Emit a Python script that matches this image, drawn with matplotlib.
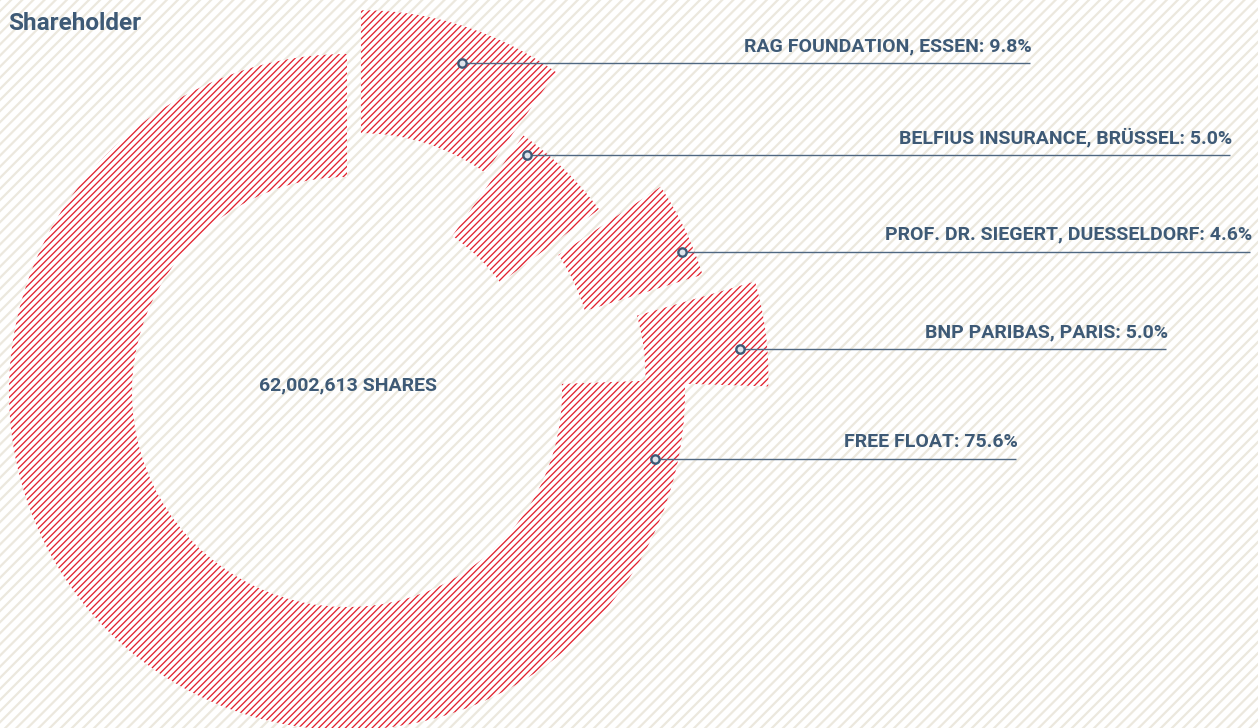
import matplotlib.pyplot as plt
from matplotlib.patches import Rectangle
from matplotlib.transforms import Affine2D
import numpy as np

# data
holders = ["RAG FOUNDATION, ESSEN", "BELFIUS INSURANCE, BRÜSSEL",
           "PROF. DR. SIEGERT, DUESSELDORF", "BNP PARIBAS, PARIS", "FREE FLOAT"]
shares_pct = [9.8, 5.0, 4.6, 5.0, 75.6]
total_shares = "62,002,613"

# layout (pixels, measured from the top left of the picture)
W, H = 1258, 728
RED = "#e2232f"
INK = "#3e5a76"
LINE = "#4f6882"
explode = [46, -27, 37, 85, 0]
tilt = [0, 0, -3, -4, 0]
dot_angle_frac = [0.447, 0.86, 0.30, 0.374, 0.947]
dot_r_frac = [0.895, 0.96, 0.965, 0.919, 0.933]
line_end = [1030, 1230, 1250, 1166, 1016]

plt.rcParams["font.family"] = ["Roboto", "DejaVu Sans"]

fig = plt.figure(figsize=(W / 100, H / 100), dpi=100)
ax = fig.add_axes([0, 0, 1, 1])

# striped paper background
bg = Rectangle((0, 0), W, H, facecolor="white", edgecolor="#ece8de",
               hatch="///", linewidth=0, zorder=0)
if hasattr(bg, "set_hatch_linewidth"):
    bg.set_hatch_linewidth(1.6)
ax.add_patch(bg)

wedges, _ = ax.pie(shares_pct, explode=explode, startangle=90, counterclock=False,
                   radius=338, center=(347, H - 392),
                   wedgeprops=dict(width=123, facecolor="white", edgecolor=RED,
                                   linewidth=0, hatch="/////"))
for w, rot in zip(wedges, tilt):
    w.set_zorder(2)
    if hasattr(w, "set_hatch_linewidth"):
        w.set_hatch_linewidth(0.95)
    cx, cy = w.center
    w.set_transform(Affine2D().rotate_deg_around(cx, cy, rot) + ax.transData)

ax.set_xlim(0, W)
ax.set_ylim(0, H)
ax.set_aspect("equal")
ax.axis("off")

for w, rot, name, pct, tf, rf, xe in zip(wedges, tilt, holders, shares_pct,
                                          dot_angle_frac, dot_r_frac, line_end):
    a = np.radians(w.theta1 + tf * (w.theta2 - w.theta1) + rot)
    cx, cy = w.center
    dx = cx + rf * w.r * np.cos(a)
    dy = cy + rf * w.r * np.sin(a)
    ax.plot([dx, xe], [dy, dy], color=LINE, lw=1.0, zorder=3,
            solid_capstyle="butt")
    ax.plot(dx, dy, "o", ms=6, mfc="#dfe5eb", mec=INK, mew=1.7, zorder=4)
    ax.text(xe + 2, dy + 12, f"{name}: {pct:.1f}%", ha="right", va="baseline",
            fontsize=14, fontweight="bold", color=INK, zorder=5)

ax.text(259, H - 385, f"{total_shares} SHARES", ha="left", va="center",
        fontsize=14, fontweight="bold", color=INK, zorder=5)
ax.text(8, H - 24, "Shareholder", ha="left", va="center",
        fontsize=17.5, fontweight="bold", color=INK, zorder=5)

fig.savefig("out.png", dpi=100)
